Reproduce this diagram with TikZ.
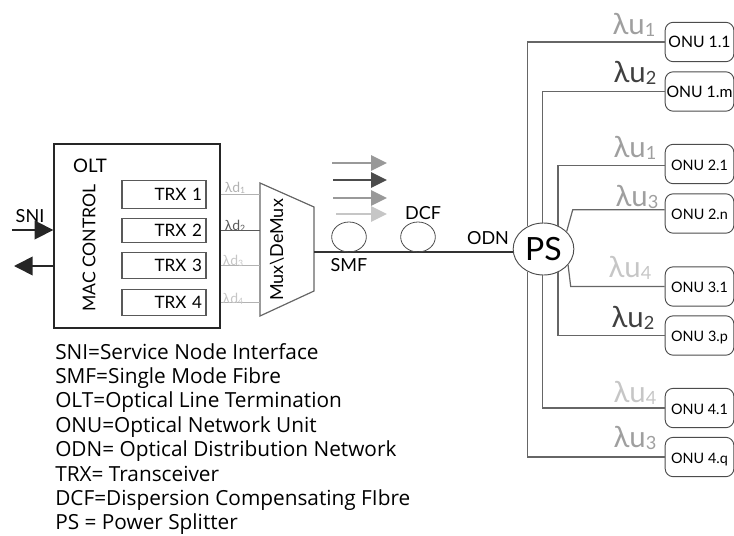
\documentclass[tikz,border=0pt]{standalone}
\usepackage{fontspec}
\setmainfont{Lato}
\newfontfamily\legendfont{Open Sans}
\usetikzlibrary{arrows.meta,calc,positioning,shapes.geometric}
\newcommand{\lowsub}[1]{\raisebox{-0.08em}{\scalebox{0.62}{#1}}}

\begin{document}
\begin{tikzpicture}[
  x=0.75pt,y=-0.75pt,
  font=\normalsize,
  wire/.style={gray!80!black,line width=0.9pt},
  fibre/.style={black!80,line width=1.3pt},
  trx/.style={draw=gray!70!black,line width=0.8pt,minimum width=63pt,inner xsep=3pt,
              text width=57pt,align=right,font=\fontsize{12.8}{14}\selectfont},
  onu/.style={draw=black!70,line width=0.7pt,rounded corners=6pt,minimum width=51.5pt,
              minimum height=29.5pt,inner sep=0pt,text height=9pt,text depth=0pt},
  loopf/.style={draw=black!70,ellipse,line width=0.6pt,inner sep=0pt,
                minimum width=26pt,minimum height=22.5pt},
  lbl/.style={font=\fontsize{13.5}{15}\selectfont,inner sep=0pt},
  ld/.style={font=\fontsize{10.5}{12}\selectfont,inner sep=0pt},
  lu/.style={font=\fontsize{22}{24}\selectfont,inner sep=0pt},
  bigarrow/.style={-{Triangle[length=14pt,width=14pt]},black!85,line width=1.2pt},
  wave/.style={-{Triangle[length=12pt,width=11.5pt]},line width=1.2pt},
]
\useasboundingbox (0,0) rectangle (734,535);

%% ===== OLT ===================================================================
\node[draw=black!85,line width=1pt,minimum width=124.5pt,minimum height=138pt,inner sep=0pt]
      (olt) at (137,236) {};
\node[lbl,font=\fontsize{14}{15}\selectfont] (oltname) at (90,166) {OLT};
\node[lbl,font=\fontsize{13.2}{15}\selectfont,rotate=90] (mac) at (89,248) {MAC CONTROL};

\node[trx,minimum height=21.5pt] (trx1) at (164,194.5) {TRX 1};
\node[trx,minimum height=18.5pt] (trx2) at (164,230.5) {TRX 2};
\node[trx,minimum height=20pt]   (trx3) at (164,265.5) {TRX 3};
\node[trx,minimum height=20pt]   (trx4) at (164,302.5) {TRX 4\hspace{2.5pt}};

\node[lbl] (sni) at (30,216) {SNI};
\coordinate (sniin)  at (12,230);
\coordinate (sniout) at (14,266);
\draw[bigarrow] (sniin) -- (sniin -| olt.west);
\draw[bigarrow] (sniout -| olt.west) -- (sniout);

%% ===== Mux ===================================================================
\coordinate (muxa) at (260,183);
\coordinate (muxb) at (314,207);
\coordinate (muxc) at (314,291);
\coordinate (muxd) at (260,316);
\draw[wire] (muxa) -- (muxb) -- (muxc) -- (muxd) -- cycle;
\node[lbl,rotate=90] (mux) at (277,250) {Mux\textbackslash DeMux};

\foreach \a/\c in {trx1/gray!60,trx2/gray!70!black,trx3/gray!60,trx4/gray!60} {
  \draw[wire,\c] (\a.east -| olt.east) -- (\a.east -| muxa);
}
\node[ld,gray!60]  (ld1) at (235,188) {λd\lowsub{1}};
\node[ld,black!65] (ld2) at (235,226) {λd\lowsub{2}};
\node[ld,gray!45]  (ld3) at (233,261) {λd\lowsub{3}};
\node[ld,gray!45]  (ld4) at (233,299) {λd\lowsub{4}};

%% ===== Wavelength arrows =====================================================
\foreach \n/\y/\xa/\c in {w1/163/332/gray!80,w2/180/333/black!70,
                          w3/198/333/gray!80,w4/214/336/gray!45} {
  \coordinate (\n a) at (\xa,\y);
  \coordinate (\n b) at (387,\y);
  \draw[wave,\c] (\n a) -- (\n b);
}

%% ===== Feeder ================================================================
\node[draw=black!70,ellipse,line width=0.7pt,inner sep=0pt,minimum width=45.5pt,
      minimum height=39pt,font=\fontsize{24}{26}\selectfont] (ps) at (543.5,249) {PS};
\coordinate (muxout) at (314,252);
\draw[fibre] (muxout) -- (muxout -| ps.west);

\node[loopf] (smf) at (349,237) {};
\node[loopf] (dcf) at (418,237) {};
\node[lbl] (smflbl) at (349,265) {SMF};
\node[lbl] (dcflbl) at (423,213) {DCF};
\node[lbl] (odn)    at (488,238) {ODN};

%% ===== ONUs ==================================================================
\foreach \n/\t/\y/\s in {onu11/ONU 1.1/42/11.8,onu1m/ONU 1.m/91.5/11.8,onu21/ONU 2.1/164/10.8,
                         onu2n/ONU 2.n/213.5/10.8,onu31/ONU 3.1/286.5/10.8,onu3p/ONU 3.p/335.5/10.8,
                         onu41/ONU 4.1/408/10.8,onu4q/ONU 4.q/457/10.8} {
  \node[onu,font=\fontsize{\s}{12}\selectfont] (\n) at (699.5,\y) {\t};
}

\draw[wire] (onu11.west) -| (ps.125);
\draw[wire] (onu1m.west) -| (ps.93);
\draw[wire] (onu21.183) -| (ps.58);
\draw[wire] (onu2n.174) -- ++(-92,0) -- (ps.37);
\draw[wire] (onu31.west) -- ++(-94,0) -- (ps.-33);
\draw[wire] (onu3p.west) -| (ps.-58);
\draw[wire] (onu41.west) -| (ps.-93);
\draw[wire] (onu4q.west) -| (ps.-125);

\node[lu,gray!75]  (lu1) at (634,25)  {λu\lowsub{1}};
\node[lu,black!75] (lu2) at (635,73)  {λu\lowsub{2}};
\node[lu,gray!75]  (lu3) at (635,148) {λu\lowsub{1}};
\node[lu,gray!75]  (lu4) at (637,197) {λu\lowsub{3}};
\node[lu,gray!45]  (lu5) at (630,268) {λu\lowsub{4}};
\node[lu,black!75] (lu6) at (633,318) {λu\lowsub{2}};
\node[lu,gray!45]  (lu7) at (635,393) {λu\lowsub{4}};
\node[lu,gray!75]  (lu8) at (635,438) {λu\lowsub{3}};

%% ===== Legend ================================================================
\node[anchor=north west,inner sep=0pt,align=left,
      font=\legendfont\fontsize{15.6}{18.3}\selectfont] (legend) at (55,343)
      {SNI=Service Node Interface\\
       SMF=Single Mode Fibre\\
       OLT=Optical Line Termination\\
       ONU=Optical Network Unit\\
       ODN= Optical Distribution Network\\
       TRX= Transceiver\\
       DCF=Dispersion Compensating FIbre\\
       PS = Power Splitter};

\end{tikzpicture}
\end{document}
